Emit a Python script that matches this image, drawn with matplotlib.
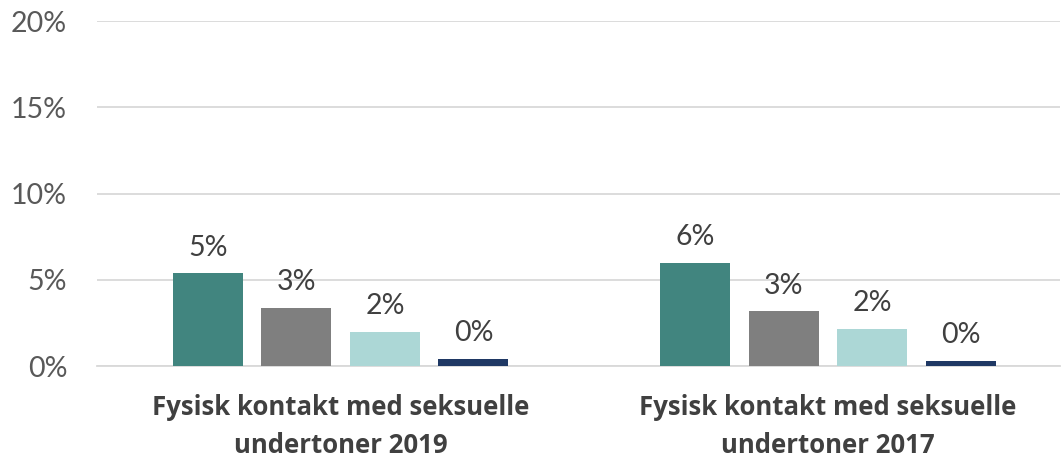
import numpy as np
import matplotlib
matplotlib.use('Agg')
from matplotlib import pyplot as plt

# data
kategorier = ['Fysisk kontakt med seksuelle\nundertoner 2019',
              'Fysisk kontakt med seksuelle\nundertoner 2017']
serie_verdier = [
    [5.37, 5.99],
    [3.38, 3.19],
    [1.99, 2.16],
    [0.42, 0.31],
]
etiketter = [
    ['5%', '6%'],
    ['3%', '3%'],
    ['2%', '2%'],
    ['0%', '0%'],
]
farger = ['#41857f', '#7f7f7f', '#acd7d6', '#1f3864']
y_ticks = [0, 5, 10, 15, 20]

fig = plt.figure(figsize=(10.63, 4.61), dpi=100)
ax = fig.add_axes([0.0913, 0.206, 0.906, 0.748])

x = np.arange(len(kategorier))
bredde = 0.1437
avstand = 0.1817
for i, (verdier, farge) in enumerate(zip(serie_verdier, farger)):
    pos = x + (i - 1.5) * avstand
    bars = ax.bar(pos, verdier, width=bredde, color=farge, zorder=3)
    for b, tekst in zip(bars, etiketter[i]):
        ax.annotate(tekst, (b.get_x() + b.get_width() / 2, b.get_height()),
                    xytext=(0, 9), textcoords='offset points',
                    ha='center', va='bottom', fontsize=20.5,
                    family='Lato', color='#404040')

ax.set_xlim(-0.5, 1.477)
ax.set_ylim(0, 20)
ax.set_yticks(y_ticks)
ax.set_yticklabels([f'{v}%' for v in y_ticks], fontsize=20.5, family='Lato', color='#595959')
ax.yaxis.grid(True, color='#d9d9d9', linewidth=1.3, zorder=0)
ax.tick_params(axis='y', length=0, pad=21.5)
ax.tick_params(axis='x', length=0, pad=20)
ax.set_xticks(x)
ax.set_xticklabels(kategorier, fontsize=18.5, fontweight='bold',
                   family='Open Sans', color='#404040')
for lbl in ax.get_xticklabels():
    lbl.set_linespacing(1.55)
for s in ['top', 'right', 'left']:
    ax.spines[s].set_visible(False)
ax.spines['bottom'].set_color('#d9d9d9')
ax.spines['bottom'].set_linewidth(1.3)

plt.savefig('out.png', dpi=100)
